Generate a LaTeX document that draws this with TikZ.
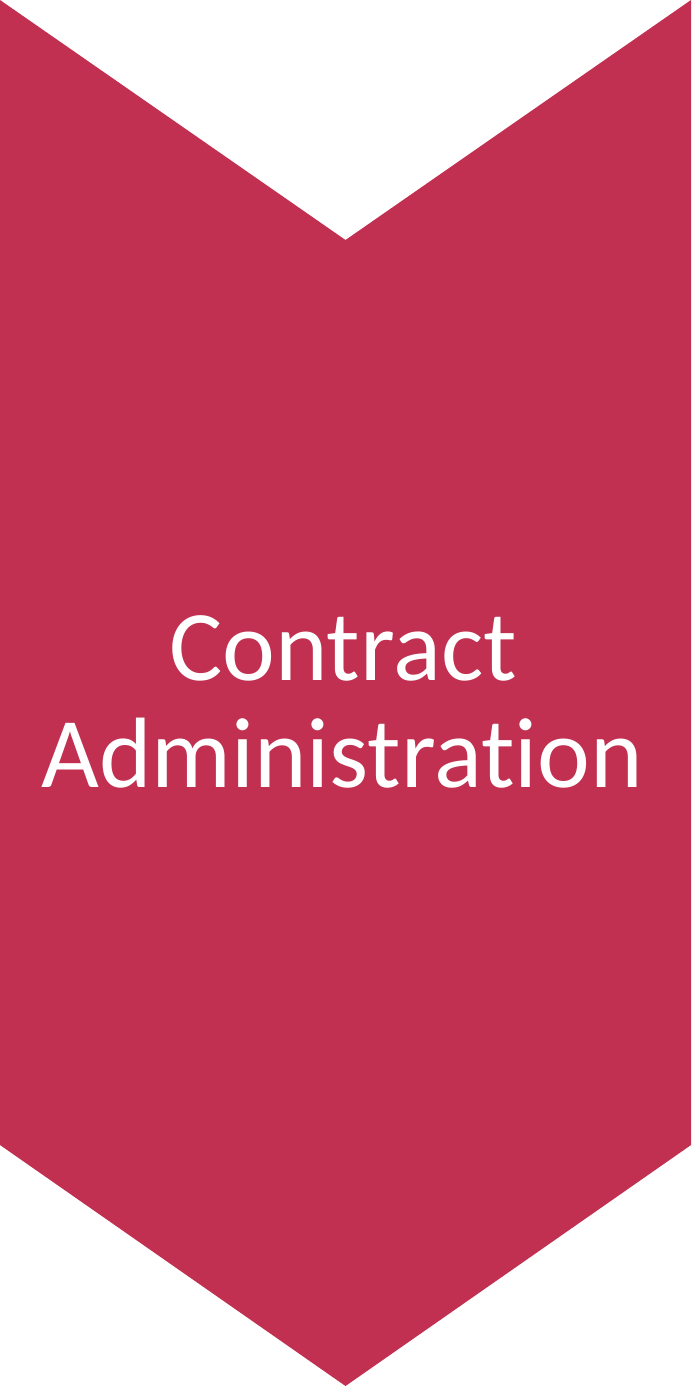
\documentclass[tikz,border=0pt]{standalone}
\usepackage{fontspec}
\setmainfont{Carlito}[Ligatures={NoCommon,NoContextual}]
\definecolor{crimson}{HTML}{C13050}
\tikzset{
  chevron/.style={fill=crimson, draw=none},
  caption/.style={text=white, font=\fontsize{100}{107}\selectfont, inner sep=0pt, anchor=base}
}

\begin{document}
\begin{tikzpicture}[x=1pt, y=-1pt]
    \useasboundingbox (0,0) rectangle (691,1386);
    \coordinate (tl) at (0,0);
    \coordinate (notch) at (345.5,240);
    \coordinate (tr) at (691,0);
    \coordinate (br) at (691,1145);
    \coordinate (tip) at (345.5,1386);
    \coordinate (bl) at (0,1145);
    \fill[chevron] (tl) -- (notch) -- (tr) -- (br) -- (tip) -- (bl) -- cycle;
    \node[caption] (contract) at (343,680) {Contract};
    \node[caption] (admin) at (342,787) {Administration};
  \end{tikzpicture}
\end{document}
